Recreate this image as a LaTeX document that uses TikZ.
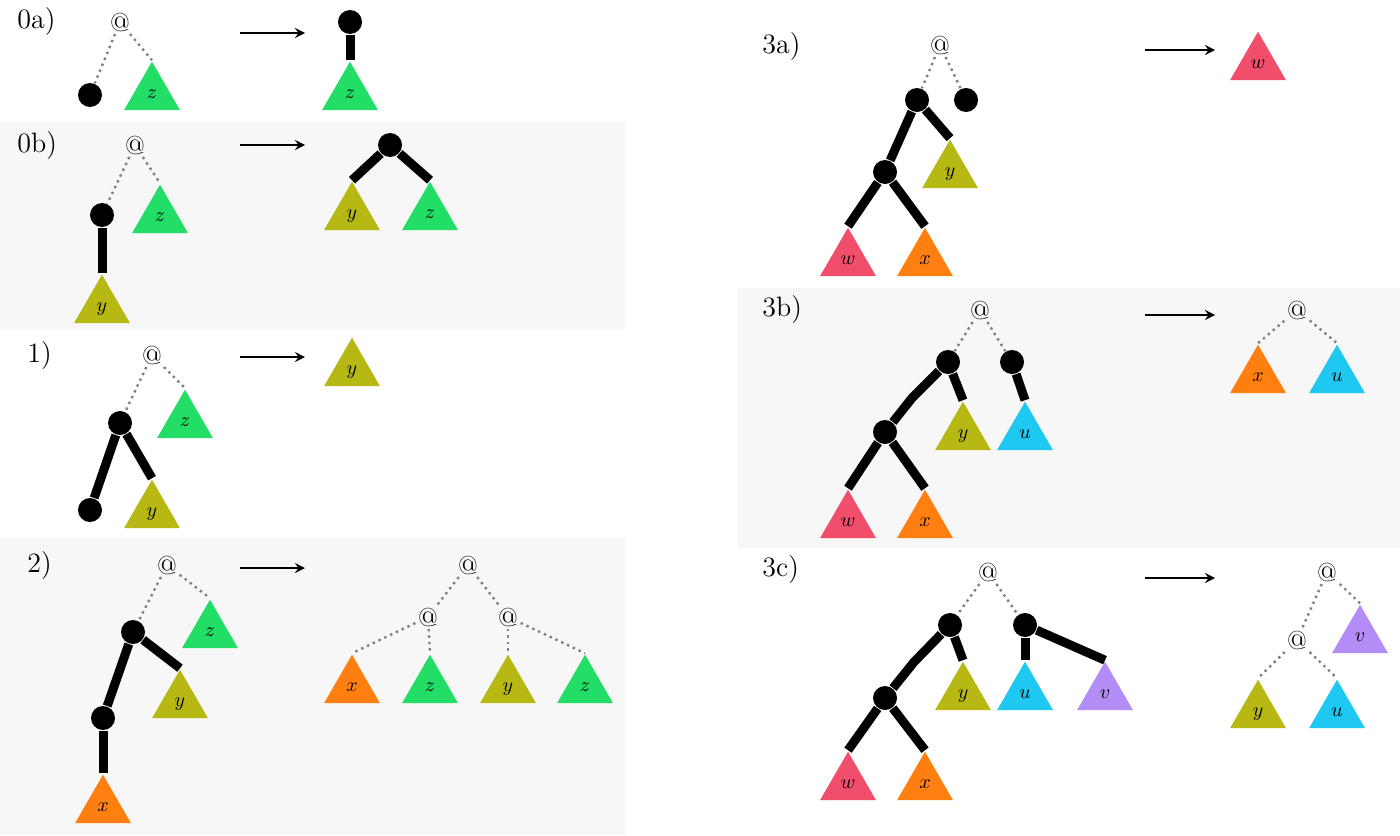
\documentclass[tikz,border=0pt]{standalone}
\usetikzlibrary{shapes.geometric}
\definecolor{zcol}{HTML}{22DD66}
\definecolor{ycol}{HTML}{B8B815}
\definecolor{xcol}{HTML}{FF7F11}
\definecolor{wcol}{HTML}{F04E6A}
\definecolor{ucol}{HTML}{1EC8F0}
\definecolor{vcol}{HTML}{B48CF5}
\definecolor{panel}{HTML}{F7F7F7}
\tikzset{every picture/.style={line width=0.75pt}}
\tikzset{
  tri/.style={regular polygon, regular polygon sides=3, minimum size=32.3pt, inner sep=0pt, fill=#1, text depth=0pt, font=\fontsize{10}{12}\selectfont\itshape},
  dot/.style={circle, fill=black, minimum size=12pt, inner sep=0pt},
  app/.style={inner sep=1pt, font=\fontsize{13}{15}\selectfont},
  casename/.style={anchor=west, font=\fontsize{14}{16}\selectfont},
  edge/.style={line width=4.5pt},
  lnk/.style={dotted, line width=1.2pt, gray},
  go/.style={-stealth, line width=1.2pt}
}
% \tri{name}{x}{apex y}{colour}{letter}
\newcommand{\tri}[5]{\node[tri=#4] (#1) at (#2,#3+32) {$#5$};}

\begin{document}
\begin{tikzpicture}[x=0.5pt,y=-0.5pt]
  \useasboundingbox (0,0) rectangle (1400,835);
  % panels
  \fill[panel] (0,122) rectangle (625,330);
  \fill[panel] (0,538) rectangle (625,835);
  \fill[panel] (738,288) rectangle (1400,548);

  % 0a
  \node[casename] at (10,22) {0a)};
  \node[app] (a0) at (120,22) {@};
  \node[dot] (d0) at (90,95) {};
  \tri{z0}{152}{62}{zcol}{z}
  \draw[lnk] (a0) -- (d0);
  \draw[lnk] (a0) -- (z0.corner 1);
  \draw[go] (240,33) -- (305,33);
  \node[dot] (d0r) at (350,22) {};
  \tri{z0r}{350}{62}{zcol}{z}
  \draw[edge] (d0r) -- (z0r.corner 1);

  % 0b
  \node[casename] at (10,146) {0b)};
  \node[app] (a1) at (135,145) {@};
  \node[dot] (d1) at (102,215) {};
  \tri{z1}{160}{185}{zcol}{z}
  \tri{y1}{102}{275}{ycol}{y}
  \draw[lnk] (a1) -- (d1);
  \draw[lnk] (a1) -- (z1.corner 1);
  \draw[edge] (d1) -- (y1.corner 1);
  \draw[go] (240,145) -- (305,145);
  \node[dot] (d1r) at (390,145) {};
  \tri{y1r}{352}{182}{ycol}{y}
  \tri{z1r}{430}{182}{zcol}{z}
  \draw[edge] (d1r) -- (y1r.corner 1);
  \draw[edge] (d1r) -- (z1r.corner 1);

  % 1
  \node[casename] at (20,356) {1)};
  \node[app] (a2) at (152,355) {@};
  \node[dot] (d2) at (120,423) {};
  \tri{z2}{185}{390}{zcol}{z}
  \node[dot] (d2b) at (90,510) {};
  \tri{y2}{152}{480}{ycol}{y}
  \draw[lnk] (a2) -- (d2);
  \draw[lnk] (a2) -- (z2.corner 1);
  \draw[edge] (d2) -- (d2b);
  \draw[edge] (d2) -- (y2.corner 1);
  \draw[go] (240,357) -- (305,357);
  \tri{y2r}{352}{338}{ycol}{y}

  % 2
  \node[casename] at (20,566) {2)};
  \node[app] (a3) at (167,565) {@};
  \tri{z3}{210}{600}{zcol}{z}
  \node[dot] (d3) at (133,632) {};
  \node[dot] (d3b) at (103,718) {};
  \tri{y3}{180}{670}{ycol}{y}
  \tri{x3}{103}{775}{xcol}{x}
  \draw[lnk] (a3) -- (d3);
  \draw[lnk] (a3) -- (z3.corner 1);
  \draw[edge] (d3) -- (d3b);
  \draw[edge] (d3) -- (y3.corner 1);
  \draw[edge] (d3b) -- (x3.corner 1);
  \draw[go] (240,568) -- (305,568);
  \node[app] (a3r) at (468,565) {@};
  \node[app] (a3l) at (428,617) {@};
  \node[app] (a3m) at (508,617) {@};
  \tri{x3r}{352}{655}{xcol}{x}
  \tri{z3r}{430}{655}{zcol}{z}
  \tri{y3r}{508}{655}{ycol}{y}
  \tri{z3s}{585}{655}{zcol}{z}
  \draw[lnk] (a3r) -- (a3l);
  \draw[lnk] (a3r) -- (a3m);
  \draw[lnk] (a3l) -- (x3r.corner 1);
  \draw[lnk] (a3l) -- (z3r.corner 1);
  \draw[lnk] (a3m) -- (y3r.corner 1);
  \draw[lnk] (a3m) -- (z3s.corner 1);

  % 3a
  \node[casename] at (755,47) {3a)};
  \node[app] (a4) at (940,45) {@};
  \node[dot] (d4) at (917,100) {};
  \node[dot] (d4r) at (966,100) {};
  \node[dot] (d4b) at (885,172) {};
  \tri{y4}{950}{140}{ycol}{y}
  \tri{w4}{848}{228}{wcol}{w}
  \tri{x4}{925}{228}{xcol}{x}
  \draw[lnk] (a4) -- (d4);
  \draw[lnk] (a4) -- (d4r);
  \draw[edge] (d4) -- (d4b);
  \draw[edge] (d4) -- (y4.corner 1);
  \draw[edge] (d4b) -- (w4.corner 1);
  \draw[edge] (d4b) -- (x4.corner 1);
  \draw[go] (1145,50) -- (1215,50);
  \tri{w4r}{1258}{32}{wcol}{w}

  % 3b
  \node[casename] at (755,310) {3b)};
  \node[app] (a5) at (980,310) {@};
  \node[dot] (d5) at (948,362) {};
  \node[dot] (d5r) at (1012,362) {};
  \node[dot] (d5b) at (885,432) {};
  \tri{y5}{963}{402}{ycol}{y}
  \tri{u5}{1025}{402}{ucol}{u}
  \tri{w5}{848}{490}{wcol}{w}
  \tri{x5}{925}{490}{xcol}{x}
  \draw[lnk] (a5) -- (d5);
  \draw[lnk] (a5) -- (d5r);
  \draw[edge] (d5) -- (912,398) -- (d5b);
  \draw[edge] (d5) -- (y5.corner 1);
  \draw[edge] (d5r) -- (u5.corner 1);
  \draw[edge] (d5b) -- (w5.corner 1);
  \draw[edge] (d5b) -- (x5.corner 1);
  \draw[go] (1145,315) -- (1215,315);
  \node[app] (a5r) at (1297,310) {@};
  \tri{x5r}{1258}{345}{xcol}{x}
  \tri{u5r}{1337}{345}{ucol}{u}
  \draw[lnk] (a5r) -- (x5r.corner 1);
  \draw[lnk] (a5r) -- (u5r.corner 1);

  % 3c
  \node[casename] at (755,570) {3c)};
  \node[app] (a6) at (988,572) {@};
  \node[dot] (d6) at (950,625) {};
  \node[dot] (d6r) at (1025,625) {};
  \node[dot] (d6b) at (885,698) {};
  \tri{y6}{963}{662}{ycol}{y}
  \tri{u6}{1025}{662}{ucol}{u}
  \tri{v6}{1105}{662}{vcol}{v}
  \tri{w6}{848}{752}{wcol}{w}
  \tri{x6}{925}{752}{xcol}{x}
  \draw[lnk] (a6) -- (d6);
  \draw[lnk] (a6) -- (d6r);
  \draw[edge] (d6) -- (914,662) -- (d6b);
  \draw[edge] (d6) -- (y6.corner 1);
  \draw[edge] (d6r) -- (u6.corner 1);
  \draw[edge] (d6r) -- (v6.corner 1);
  \draw[edge] (d6b) -- (w6.corner 1);
  \draw[edge] (d6b) -- (x6.corner 1);
  \draw[go] (1145,578) -- (1215,578);
  \node[app] (a6r) at (1327,572) {@};
  \node[app] (a6l) at (1297,640) {@};
  \tri{v6r}{1360}{605}{vcol}{v}
  \tri{y6r}{1258}{680}{ycol}{y}
  \tri{u6r}{1337}{680}{ucol}{u}
  \draw[lnk] (a6r) -- (a6l);
  \draw[lnk] (a6r) -- (v6r.corner 1);
  \draw[lnk] (a6l) -- (y6r.corner 1);
  \draw[lnk] (a6l) -- (u6r.corner 1);
\end{tikzpicture}
\end{document}
